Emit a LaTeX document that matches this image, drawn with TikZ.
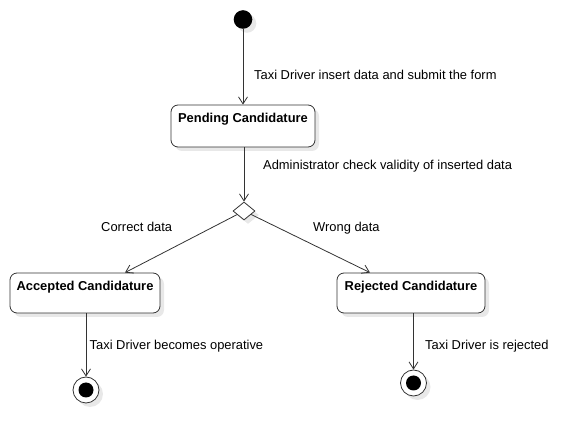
\documentclass[tikz,border=0pt]{standalone}
\usepackage{fontspec}
\setmainfont{Liberation Sans}
\usetikzlibrary{arrows.meta,shapes.geometric,shadows}

\newcommand{\diagfont}{\fontsize{12.9}{15}\selectfont}

\tikzset{
  shade/.style={drop shadow={shadow xshift=4pt, shadow yshift=-4pt, fill=black!9, opacity=1}},
  trans/.style={draw=black!80, line width=0.8pt, -{Straight Barb[length=7pt, width=9pt]}},
  statebox/.style={draw=black!80, line width=0.8pt, rounded corners=7pt, fill=white, shade, inner sep=0pt},
  boxtext/.style={font=\diagfont\bfseries, inner sep=0pt, anchor=base},
  guard/.style={inner sep=0pt, anchor=base west},
  initstate/.style={circle, fill=black, minimum size=18.6pt, inner sep=0pt, shade},
  endstate/.style={circle, draw=black!80, line width=0.8pt, fill=white, minimum size=26pt, inner sep=0pt, shade,
    path picture={\fill[black] (path picture bounding box.center) circle (7.5pt);}},
  choice/.style={diamond, draw=black!80, line width=0.8pt, fill=white, minimum width=22pt, minimum height=18pt, inner sep=0pt, shade}
}

\begin{document}
\begin{tikzpicture}[x=1pt, y=-1pt, font=\diagfont]
\useasboundingbox (0,0) rectangle (587,443);
\node[initstate] (start) at (243,19.5) {}; % initial
\node[statebox, minimum width=144pt, minimum height=42pt] (pending) at (243,126) {}; % Pending
\node[boxtext] at ([yshift=-17.5pt]pending.north) {Pending Candidature};
\node[choice] (check) at (244,211) {}; % decision
\node[statebox, minimum width=150pt, minimum height=40pt] (accepted) at (85,293) {}; % Accepted
\node[boxtext] at ([yshift=-18pt]accepted.north) {Accepted Candidature};
\node[statebox, minimum width=148pt, minimum height=40pt] (rejected) at (411,293) {}; % Rejected
\node[boxtext] at ([yshift=-18pt]rejected.north) {Rejected Candidature};
\node[endstate] (acceptedend) at (86,390) {}; % final.0
\node[endstate] (rejectedend) at (413.5,383) {}; % final.1

\draw[trans] (start) -- (pending);
\node[guard] (submitlabel) at (254,80) {Taxi Driver insert data and submit the form};
\draw[trans] (pending.south -| check) -- (check);
\node[guard] (checklabel) at (263,169.5) {Administrator check validity of inserted data};
\draw[trans] (check) -- ([xshift=40pt]accepted.north);
\node[guard] (correctlabel) at (101,232) {Correct data};
\draw[trans] (check) -- ([xshift=-41pt]rejected.north);
\node[guard] (wronglabel) at (313,232) {Wrong data};
\draw[trans] (acceptedend |- accepted.south) -- (acceptedend);
\node[guard] (operativelabel) at (89.5,350) {Taxi Driver becomes operative};
\draw[trans] (rejectedend |- rejected.south) -- (rejectedend);
\node[guard] (rejectedlabel) at (425,350) {Taxi Driver is rejected};
\end{tikzpicture}
\end{document}
